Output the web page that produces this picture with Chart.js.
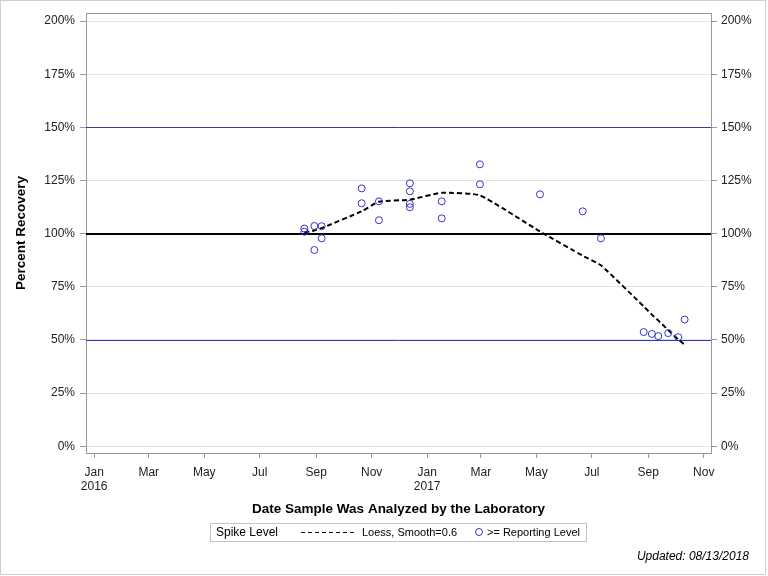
<!DOCTYPE html>
<html>
<head>
<meta charset="utf-8">
<script src="https://cdn.jsdelivr.net/npm/chart.js@4.4.1/dist/chart.umd.min.js"></script>
<style>
  body { margin: 0; background: #fff; }
  canvas { display: block; }
</style>
</head>
<body>
<canvas id="recoveryChart" width="768" height="576"></canvas>
<script>
// Spike recovery results
const sampleDates = [
    '2016-08-19', '2016-08-19', '2016-08-30', '2016-08-30', '2016-09-07', '2016-09-07',
    '2016-10-21', '2016-10-21', '2016-11-09', '2016-11-09',
    '2016-12-13', '2016-12-13', '2016-12-13', '2016-12-13',
    '2017-01-17', '2017-01-17', '2017-02-28', '2017-02-28',
    '2017-05-05', '2017-06-21', '2017-07-11',
    '2017-08-27', '2017-09-05', '2017-09-12', '2017-09-23', '2017-10-04', '2017-10-11'
];
const sampleRecovery = [
    102.4, 100.9, 103.6, 92.3, 103.5, 97.8,
    121.3, 114.3, 115.2, 106.3,
    123.7, 119.9, 114.0, 112.4,
    115.2, 107.2, 132.6, 123.2,
    118.5, 110.5, 97.8,
    53.7, 52.8, 51.8, 53.2, 51.3, 59.6
];

// Loess fit evaluated at the sample dates
const loessDates = [
    '2016-08-19', '2016-08-30', '2016-09-07', '2016-10-21', '2016-11-09', '2016-12-13',
    '2017-01-17', '2017-02-28', '2017-05-05', '2017-06-21', '2017-07-11',
    '2017-08-27', '2017-09-05', '2017-09-12', '2017-09-23', '2017-10-04', '2017-10-11'
];
const loessRecovery = [
    100.5, 101.5, 102.6, 110.5, 115.0, 116.0,
    119.2, 118.0, 101.0, 89.6, 85.1,
    65.8, 61.9, 59.2, 54.6, 50.2, 47.8
];

// Horizontal reference levels (percent)
const referenceLevels = [150, 100, 50];

// Axis ticks
const yTickValues = [0, 25, 50, 75, 100, 125, 150, 175, 200];
const xTickDates = [
    '2016-01-01', '2016-03-01', '2016-05-01', '2016-07-01', '2016-09-01', '2016-11-01',
    '2017-01-01', '2017-03-01', '2017-05-01', '2017-07-01', '2017-09-01', '2017-11-01'
];
const monthNames = ['Jan', 'Feb', 'Mar', 'Apr', 'May', 'Jun', 'Jul', 'Aug', 'Sep', 'Oct', 'Nov', 'Dec'];

const toTime = s => Date.parse(s + 'T00:00:00Z');
const FONT = "'Liberation Sans', Arial, sans-serif";

const refStyles = [
    { color: '#3d3d8f', width: 1 },
    { color: '#000000', width: 2 },
    { color: '#3535cc', width: 1 }
];

// Extra drawing: reference lines, frame, titles, legend, footnote
const decorations = {
    id: 'decorations',
    beforeDatasetsDraw(chart) {
        const { ctx, chartArea: a, scales } = chart;
        ctx.save();
        referenceLevels.forEach((level, i) => {
            const style = refStyles[i];
            let y = scales.y.getPixelForValue(level);
            y = style.width % 2 ? Math.round(y) + 0.5 : Math.round(y);
            ctx.strokeStyle = style.color;
            ctx.lineWidth = style.width;
            ctx.beginPath();
            ctx.moveTo(a.left, y);
            ctx.lineTo(a.right, y);
            ctx.stroke();
        });
        ctx.restore();
    },
    afterDraw(chart) {
        const { ctx, chartArea: a } = chart;
        const cx = (a.left + a.right) / 2;
        ctx.save();

        // top edge of the plot box
        ctx.strokeStyle = '#999';
        ctx.lineWidth = 1;
        ctx.beginPath();
        ctx.moveTo(a.left, Math.round(a.top) + 0.5);
        ctx.lineTo(a.right, Math.round(a.top) + 0.5);
        ctx.stroke();

        // outer frame
        ctx.strokeStyle = '#cfcfcf';
        ctx.strokeRect(0.5, 0.5, 765, 574);

        // axis titles
        ctx.fillStyle = '#000';
        ctx.font = 'bold 13.5px ' + FONT;
        ctx.textAlign = 'center';
        ctx.textBaseline = 'middle';
        ctx.fillText('Date Sample Was Analyzed by the Laboratory', cx, 509);

        ctx.save();
        ctx.translate(21, (a.top + a.bottom) / 2);
        ctx.rotate(-Math.PI / 2);
        ctx.fillText('Percent Recovery', 0, 0);
        ctx.restore();

        // legend
        const loess = chart.data.datasets[0];
        const pts = chart.data.datasets[1];
        ctx.strokeStyle = '#c4c4c4';
        ctx.lineWidth = 1;
        ctx.strokeRect(210.5, 523.5, 376, 18);
        ctx.font = '11px ' + FONT;
        ctx.textAlign = 'left';
        ctx.fillStyle = '#000';
        ctx.font = '12px ' + FONT;
        ctx.fillText('Spike Level', 216, 532.5);
        ctx.font = '11px ' + FONT;

        ctx.strokeStyle = loess.borderColor;
        ctx.lineWidth = 1;
        ctx.setLineDash([4, 3]);
        ctx.beginPath();
        ctx.moveTo(301, 532.5);
        ctx.lineTo(356, 532.5);
        ctx.stroke();
        ctx.setLineDash([]);
        ctx.fillText(loess.label, 362, 532.5);

        ctx.strokeStyle = pts.borderColor;
        ctx.beginPath();
        ctx.arc(479, 532, 3.5, 0, Math.PI * 2);
        ctx.stroke();
        ctx.fillText(pts.label, 487, 532.5);

        // footnote
        ctx.font = 'italic 12px ' + FONT;
        ctx.textAlign = 'right';
        ctx.fillText('Updated: 08/13/2018', 749, 557);

        ctx.restore();
    }
};

const ctx = document.getElementById('recoveryChart').getContext('2d');
new Chart(ctx, {
    data: {
        datasets: [
            {
                type: 'line',
                label: 'Loess, Smooth=0.6',
                data: loessDates.map((d, i) => ({ x: toTime(d), y: loessRecovery[i] })),
                borderColor: '#000000',
                borderWidth: 2,
                borderDash: [5, 3],
                pointRadius: 0,
                fill: false,
                tension: 0.15,
                order: 2
            },
            {
                type: 'scatter',
                label: '>= Reporting Level',
                data: sampleDates.map((d, i) => ({ x: toTime(d), y: sampleRecovery[i] })),
                borderColor: '#3333cc',
                backgroundColor: 'rgba(0,0,0,0)',
                borderWidth: 1,
                pointRadius: 3.5,
                pointStyle: 'circle',
                order: 1
            }
        ]
    },
    options: {
        responsive: false,
        animation: false,
        layout: { padding: { top: 13, left: 0, right: 0, bottom: 0 } },
        plugins: {
            legend: { display: false },
            tooltip: { enabled: false }
        },
        scales: {
            x: {
                type: 'linear',
                position: 'bottom',
                min: toTime('2015-12-23'),
                max: toTime('2017-11-09'),
                afterBuildTicks: scale => {
                    scale.ticks = xTickDates.map(d => ({ value: toTime(d) }));
                },
                afterFit: scale => { scale.height = 123; },
                grid: {
                    drawOnChartArea: false,
                    color: '#999',
                    tickLength: 5
                },
                border: { color: '#999' },
                ticks: {
                    padding: 7,
                    color: '#222',
                    maxRotation: 0,
                    autoSkip: false,
                    font: { family: FONT, size: 12 },
                    callback: value => {
                        const d = new Date(value);
                        const m = monthNames[d.getUTCMonth()];
                        return d.getUTCMonth() === 0 ? [m, String(d.getUTCFullYear())] : m;
                    }
                }
            },
            y: {
                position: 'left',
                min: -3.2,
                max: 203.8,
                afterBuildTicks: scale => {
                    scale.ticks = yTickValues.map(v => ({ value: v }));
                },
                afterFit: scale => { scale.width = 86; },
                grid: {
                    color: '#e3e3e3',
                    tickColor: '#999',
                    tickLength: 6
                },
                border: { color: '#999' },
                ticks: {
                    padding: 5,
                    color: '#222',
                    font: { family: FONT, size: 12 },
                    callback: v => v + '%'
                }
            },
            y2: {
                position: 'right',
                min: -3.2,
                max: 203.8,
                afterBuildTicks: scale => {
                    scale.ticks = yTickValues.map(v => ({ value: v }));
                },
                afterFit: scale => { scale.width = 57; },
                grid: {
                    drawOnChartArea: false,
                    color: '#999',
                    tickLength: 6
                },
                border: { color: '#999' },
                ticks: {
                    padding: 4,
                    color: '#222',
                    font: { family: FONT, size: 12 },
                    callback: v => v + '%'
                }
            }
        }
    },
    plugins: [decorations]
});
</script>
</body>
</html>
